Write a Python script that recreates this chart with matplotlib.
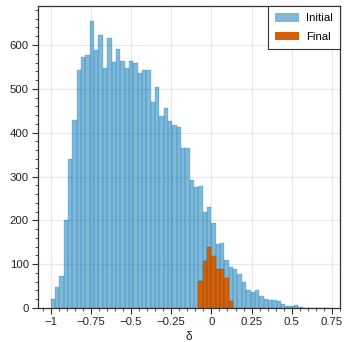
import numpy as np
import matplotlib
matplotlib.use("Agg")
import matplotlib.pyplot as plt
from matplotlib.ticker import MultipleLocator, FuncFormatter
from matplotlib.patches import Patch

# Histogram data (bin width 1/37, starting at -1)
bin_start = -1.0
bin_width = 1.0 / 37.0
initial_counts = [20, 48, 72, 200, 339, 428, 543, 572, 578, 654, 588, 622, 548, 616,
                  561, 590, 563, 547, 563, 558, 536, 542, 544, 469, 505, 439, 456, 427,
                  417, 412, 365, 364, 292, 275, 278, 218, 230, 194, 145, 148, 109, 93,
                  88, 78, 59, 42, 37, 42, 28, 21, 19, 19, 15, 10, 5, 5, 6, 2, 1, 1, 1,
                  1, 0, 1, 1]
final_first_bin = 34
final_counts = [61, 108, 139, 119, 90, 90, 69, 16]
series_labels = ["Initial", "Final"]
xlabel = "δ"

plt.rcParams['font.family'] = ['Liberation Sans', 'DejaVu Sans']

fig = plt.figure(figsize=(3.44, 3.42), dpi=100)
ax = fig.add_axes([38/344, 1-308/342, (340-38)/344, (308-6)/342])

n_init = len(initial_counts)
edges_init = bin_start + bin_width * np.arange(n_init)
ax.bar(edges_init, initial_counts, width=bin_width, align='edge',
       color='#0072B2', alpha=0.5, linewidth=0.3, edgecolor=(0, 0.447, 0.698, 0.25), zorder=2)

edges_fin = bin_start + bin_width * (final_first_bin + np.arange(len(final_counts)))
ax.bar(edges_fin, final_counts, width=bin_width, align='edge',
       color='#D55E00', alpha=0.95, linewidth=0.3, edgecolor=(0.6, 0.25, 0, 0.3), zorder=3)

ax.set_xlim(-1.079, 0.80)
ax.set_ylim(0, 689)

ax.xaxis.set_major_locator(MultipleLocator(0.25))
ax.xaxis.set_minor_locator(MultipleLocator(0.05))
ax.yaxis.set_major_locator(MultipleLocator(100))
ax.yaxis.set_minor_locator(MultipleLocator(20))

def xfmt(v, pos):
    s = ('%g' % round(v, 2))
    return s.replace('-', '\u2212')
ax.xaxis.set_major_formatter(FuncFormatter(xfmt))

for sp in ax.spines.values():
    sp.set_color('#333333')
    sp.set_linewidth(0.9)

ax.tick_params(which='major', direction='out', length=4, width=0.8, color='#333333',
               labelsize=8.2, labelcolor='#222222', pad=2.5,
               grid_color='#e8e8e8', grid_alpha=1.0, grid_linewidth=0.9)
ax.tick_params(which='minor', direction='out', length=2.2, width=0.6, color='#333333')
ax.grid(True, which='major', zorder=0)
ax.set_axisbelow(True)

ax.set_xlabel(xlabel, fontsize=8.5, labelpad=3, color='#222222')

handles = [Patch(facecolor='#0072B2', alpha=0.5, label=series_labels[0]),
           Patch(facecolor='#D55E00', label=series_labels[1])]
leg = ax.legend(handles=handles, loc='upper right', fontsize=8.2, frameon=True,
                fancybox=False, borderaxespad=0.0, handlelength=2.1, handleheight=0.8,
                borderpad=0.6, labelspacing=0.75, handletextpad=0.65)
leg.get_frame().set_edgecolor('#333333')
leg.get_frame().set_linewidth(0.8)
leg.get_frame().set_alpha(1)

fig.savefig('out.png', dpi=100)
